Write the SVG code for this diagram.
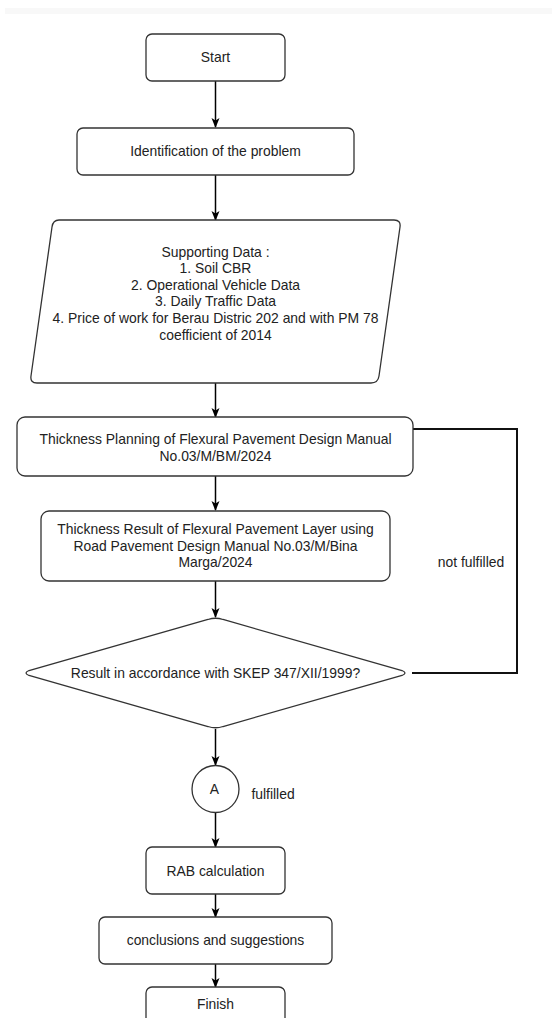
<svg xmlns="http://www.w3.org/2000/svg" width="552" height="1018" viewBox="0 0 552 1018">
<defs>
<marker id="arr" markerWidth="10" markerHeight="10" refX="9" refY="5" orient="auto" markerUnits="userSpaceOnUse">
<path d="M0,1 L10,5 L0,9 L2.5,5 z" fill="#000"/>
</marker>
<style>
.box{fill:#fff;stroke:#333;stroke-width:1.3}
.t{font-family:"Liberation Sans",Arial,sans-serif;font-size:13.9px;fill:#222;text-anchor:middle}
.c{fill:none;stroke:#000;stroke-width:1.5}
.loop{fill:none;stroke:#111;stroke-width:2}
</style>
</defs>
<rect x="0" y="0" width="552" height="1018" fill="#fff"/>
<rect x="5" y="8" width="547" height="6" fill="#f8f8f8"/>

<g id="connectors">
<path class="c" d="M215.5,81 V127" marker-end="url(#arr)"/>
<path class="c" d="M215.5,175 V220" marker-end="url(#arr)"/>
<path class="c" d="M215.5,383 V417" marker-end="url(#arr)"/>
<path class="c" d="M215.5,476 V510" marker-end="url(#arr)"/>
<path class="c" d="M215.5,581 V617" marker-end="url(#arr)"/>
<path class="c" d="M215.5,729 V765" marker-end="url(#arr)"/>
<path class="c" d="M215.5,812 V847" marker-end="url(#arr)"/>
<path class="c" d="M215.5,894 V917" marker-end="url(#arr)"/>
<path class="c" d="M215.5,964 V987" marker-end="url(#arr)"/>
<path class="loop" d="M412,673 H517 V429 H413"/>
<text class="t" x="471" y="567">not fulfilled</text>
<text class="t" x="273" y="799">fulfilled</text>
</g>

<g id="start">
<rect class="box" x="146" y="34" width="139" height="47" rx="6"/>
<text class="t" x="215.5" y="62">Start</text>
</g>

<g id="identification">
<rect class="box" x="77" y="128" width="277" height="47" rx="6"/>
<text class="t" x="215.5" y="156">Identification of the problem</text>
</g>

<g id="supporting-data">
<path class="box" d="M59,220 H394 Q401,220 400,227 L379,376 Q378,383 371,383 H37 Q30,383 31,376 L52,227 Q53,220 59,220 Z"/>
<text class="t" x="215.5" y="257">Supporting Data :</text>
<text class="t" x="215.5" y="273">1. Soil CBR</text>
<text class="t" x="215.5" y="290">2. Operational Vehicle Data</text>
<text class="t" x="215.5" y="306">3. Daily Traffic Data</text>
<text class="t" x="215.5" y="323">4. Price of work for Berau Distric 202 and with PM 78</text>
<text class="t" x="215.5" y="340">coefficient of 2014</text>
</g>

<g id="thickness-planning">
<rect class="box" x="17" y="417" width="396" height="59" rx="8"/>
<text class="t" x="215.5" y="444">Thickness Planning of Flexural Pavement Design Manual</text>
<text class="t" x="215.5" y="461">No.03/M/BM/2024</text>
</g>

<g id="thickness-result">
<rect class="box" x="41" y="511" width="349" height="70" rx="8"/>
<text class="t" x="215.5" y="534">Thickness Result of Flexural Pavement Layer using</text>
<text class="t" x="215.5" y="551">Road Pavement Design Manual No.03/M/Bina</text>
<text class="t" x="215.5" y="567">Marga/2024</text>
</g>

<g id="decision">
<path class="box" d="M208,619.5 Q215.5,617 223,619.5 L402,670.5 Q408,673 402,675.5 L223,726.5 Q215.5,729 208,726.5 L29,675.5 Q23,673 29,670.5 Z"/>
<text class="t" x="215.5" y="678">Result in accordance with SKEP 347/XII/1999?</text>
</g>

<g id="connector-a">
<circle class="box" cx="215.5" cy="789" r="23.5"/>
<text class="t" x="214.5" y="794">A</text>
</g>

<g id="rab">
<rect class="box" x="146" y="847" width="139" height="47" rx="6"/>
<text class="t" x="215.5" y="876">RAB calculation</text>
</g>

<g id="conclusions">
<rect class="box" x="99" y="917" width="233" height="47" rx="6"/>
<text class="t" x="215.5" y="945">conclusions and suggestions</text>
</g>

<g id="finish">
<rect class="box" x="146" y="987" width="139" height="47" rx="6"/>
<text class="t" x="215.5" y="1009">Finish</text>
</g>
</svg>
